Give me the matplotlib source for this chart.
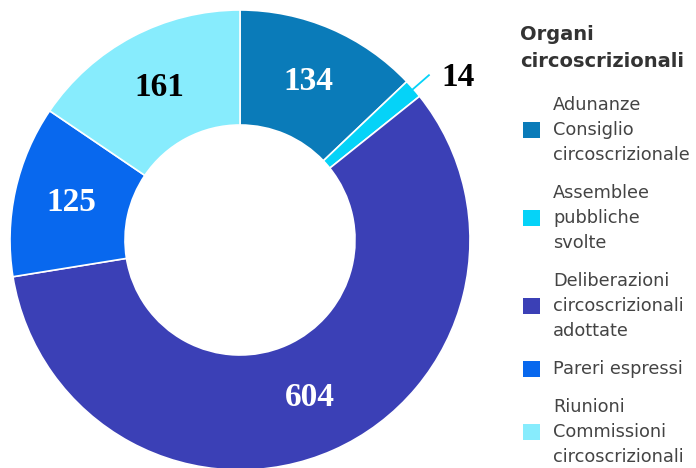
import matplotlib
matplotlib.use("Agg")
import matplotlib.pyplot as plt
from matplotlib.patches import Rectangle
import numpy as np

# dati
titolo_legenda = ["Organi", "circoscrizionali"]
categorie = ["Adunanze\nConsiglio\ncircoscrizionale",
             "Assemblee\npubbliche\nsvolte",
             "Deliberazioni\ncircoscrizionali\nadottate",
             "Pareri espressi",
             "Riunioni\nCommissioni\ncircoscrizionali"]
valori = [134, 14, 604, 125, 161]
colori = ["#0a7bb9", "#05d3f8", "#3b40b6", "#0868ee", "#87ecfd"]
colori_testo = ["white", "black", "white", "white", "black"]

W, H = 696, 468
fig = plt.figure(figsize=(W / 100, H / 100), dpi=100)
# asse del grafico a ciambella (centro ~ (240, 240) px, raggio ~230 px)
ax = fig.add_axes([10 / W, -2 / H, 460 / W, 460 / H])
wedges, _ = ax.pie(valori, colors=colori, startangle=90, counterclock=False,
                   radius=1.0, wedgeprops=dict(width=0.5, edgecolor="white", linewidth=1.2))
ax.set_xlim(-1, 1)
ax.set_ylim(-1, 1)
ax.set_aspect("equal")
ax.axis("off")

# etichette dei valori
totale = sum(valori)
for w, v, c, col in zip(wedges, valori, colori_testo, colori):
    rad = np.deg2rad((w.theta1 + w.theta2) / 2)
    if v / totale < 0.05:
        # etichetta esterna con linea guida
        x0, y0 = np.cos(rad) * 0.98, np.sin(rad) * 0.98
        x1, y1 = np.cos(rad) * 1.09, np.sin(rad) * 1.09
        ax.plot([x0, x1], [y0, y1], color=col, lw=1.3, clip_on=False)
        ax.text(x1 + 0.055, y1 - 0.01, str(v), ha="left", va="center", color=c,
                fontsize=24, fontweight="bold", family="Liberation Serif", clip_on=False)
    else:
        ax.text(np.cos(rad) * 0.75, np.sin(rad) * 0.75, str(v), ha="center", va="center",
                color=c, fontsize=24, fontweight="bold", family="Liberation Serif")

# legenda (posizionata a mano, coordinate in pixel dall'alto)
def fy(px):
    return 1 - px / H

for i, riga in enumerate(titolo_legenda):
    fig.text(520 / W, fy(40 + 27 * i), riga, fontsize=14, fontweight="bold",
             color="#333333", va="baseline", ha="left")

y = 110  # baseline della prima riga
passo = 25
for lab, col in zip(categorie, colori):
    righe = lab.split("\n")
    for j, r in enumerate(righe):
        fig.text(553 / W, fy(y + passo * j), r, fontsize=12.8, color="#444444",
                 va="baseline", ha="left")
    ymid = y + passo * (len(righe) - 1) / 2 - 5
    fig.patches.append(Rectangle((523 / W, fy(ymid + 8)), 17 / W, 16 / H,
                                 transform=fig.transFigure, facecolor=col,
                                 edgecolor="none"))
    y += passo * (len(righe) - 1) + 38

fig.savefig("out.png", dpi=100)
